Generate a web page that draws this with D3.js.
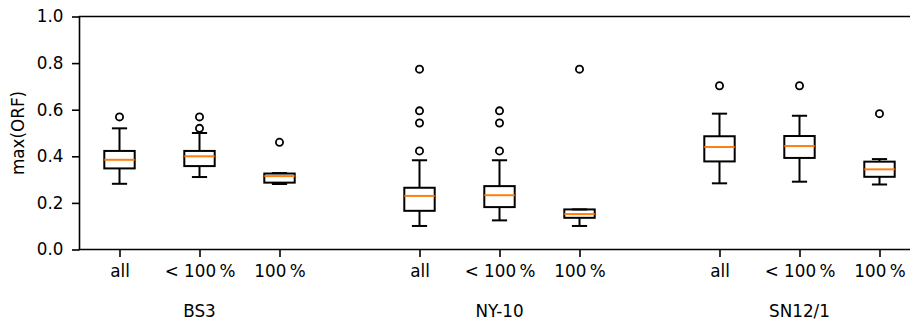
<!DOCTYPE html>
<html>
<head>
<meta charset="utf-8">
<script src="https://cdn.jsdelivr.net/npm/d3@7"></script>
<style>
  body { margin: 0; background: #fff; }
  svg { display: block; font-family: "DejaVu Sans", sans-serif; }
</style>
</head>
<body>
<div id="chart"></div>
<script>
// svg size
var svgWidth = 910;
var svgHeight = 322;
var fontSize = 16.8;

// data
var groups = ["BS3", "NY-10", "SN12/1"];
var tickLabels = ["all", "< 100\u2009%", "100\u2009%"];
var positions = [1, 2, 3, 4.75, 5.75, 6.75, 8.5, 9.5, 10.5];

var whiskerLow  = [0.282, 0.311, 0.281, 0.101, 0.125, 0.101, 0.284, 0.291, 0.279];
var q1          = [0.348, 0.358, 0.287, 0.166, 0.182, 0.136, 0.378, 0.393, 0.312];
var medians     = [0.385, 0.400, 0.315, 0.230, 0.233, 0.152, 0.440, 0.444, 0.344];
var q3          = [0.423, 0.423, 0.326, 0.265, 0.272, 0.172, 0.486, 0.487, 0.377];
var whiskerHigh = [0.520, 0.500, 0.328, 0.383, 0.383, 0.172, 0.583, 0.574, 0.388];
var outliers = [
  [0.569],
  [0.569, 0.520],
  [0.460],
  [0.774, 0.595, 0.543, 0.423],
  [0.595, 0.543, 0.423],
  [0.774],
  [0.703],
  [0.703],
  [0.583]
];
var yTicks = [0, 0.2, 0.4, 0.6, 0.8, 1.0];

var margin = {left: 79.5, top: 16.5, bottom: 72.5};
var plotBottom = svgHeight - margin.bottom;

var svg = d3.select("#chart")
  .append("svg")
  .attr("width", svgWidth)
  .attr("height", svgHeight);

var x = d3.scaleLinear()
  .domain([0.5, 11])
  .range([margin.left, margin.left + 10.5 * 80]);

var y = d3.scaleLinear()
  .domain([0, 1])
  .range([plotBottom, margin.top]);

var boxW = 0.38;
var capW = boxW / 2;

var boxes = positions.map(function(p, i) {
  return {pos: p, lo: whiskerLow[i], q1: q1[i], med: medians[i], q3: q3[i], hi: whiskerHigh[i], out: outliers[i]};
});

var g = svg.append("g");

boxes.forEach(function(d) {
  var bx = g.append("g");
  // whiskers
  bx.append("line")
    .attr("x1", x(d.pos)).attr("x2", x(d.pos))
    .attr("y1", y(d.q1)).attr("y2", y(d.lo))
    .attr("stroke", "#000").attr("stroke-width", 2);
  bx.append("line")
    .attr("x1", x(d.pos)).attr("x2", x(d.pos))
    .attr("y1", y(d.q3)).attr("y2", y(d.hi))
    .attr("stroke", "#000").attr("stroke-width", 2);
  // caps
  [d.lo, d.hi].forEach(function(v) {
    bx.append("line")
      .attr("x1", x(d.pos - capW / 2)).attr("x2", x(d.pos + capW / 2))
      .attr("y1", y(v)).attr("y2", y(v))
      .attr("stroke", "#000").attr("stroke-width", 2);
  });
  // box
  bx.append("rect")
    .attr("x", x(d.pos - boxW / 2))
    .attr("y", y(d.q3))
    .attr("width", x(d.pos + boxW / 2) - x(d.pos - boxW / 2))
    .attr("height", y(d.q1) - y(d.q3))
    .attr("fill", "none")
    .attr("stroke", "#000").attr("stroke-width", 2);
  // median
  bx.append("line")
    .attr("x1", x(d.pos - boxW / 2)).attr("x2", x(d.pos + boxW / 2))
    .attr("y1", y(d.med)).attr("y2", y(d.med))
    .attr("stroke", "#ff7f0e").attr("stroke-width", 2);
  // fliers
  bx.selectAll("circle")
    .data(d.out)
    .enter()
    .append("circle")
    .attr("cx", x(d.pos))
    .attr("cy", v => y(v))
    .attr("r", 3.6)
    .attr("fill", "none")
    .attr("stroke", "#000").attr("stroke-width", 1.8);
});

// y axis
var leftAxis = d3.axisLeft(y)
  .tickValues(yTicks)
  .tickFormat(d3.format(".1f"))
  .tickSize(7.5)
  .tickPadding(8.5);

var yAxis = svg.append("g")
  .attr("transform", `translate(${margin.left},0)`)
  .call(leftAxis);
yAxis.select(".domain").remove();
yAxis.selectAll("line").attr("stroke-width", 1.6);
yAxis.selectAll("text").attr("font-size", fontSize).attr("fill", "#000")
  .attr("font-family", "DejaVu Sans");

// x axis
var bottomAxis = d3.axisBottom(x)
  .tickValues(positions)
  .tickFormat((d, i) => tickLabels[i % 3])
  .tickSize(7.5)
  .tickPadding(8);

var xAxis = svg.append("g")
  .attr("transform", `translate(0,${plotBottom})`)
  .call(bottomAxis);
xAxis.select(".domain").remove();
xAxis.selectAll("line").attr("stroke-width", 1.6);
xAxis.selectAll("text").attr("font-size", fontSize).attr("fill", "#000")
  .attr("font-family", "DejaVu Sans");

// spines: left, top, bottom (right side runs off the picture)
svg.append("line")
  .attr("x1", margin.left).attr("x2", margin.left)
  .attr("y1", margin.top).attr("y2", plotBottom)
  .attr("stroke", "#000").attr("stroke-width", 1.6);
svg.append("line")
  .attr("x1", margin.left - 0.8).attr("x2", svgWidth)
  .attr("y1", margin.top).attr("y2", margin.top)
  .attr("stroke", "#000").attr("stroke-width", 1.6);
svg.append("line")
  .attr("x1", margin.left - 0.8).attr("x2", svgWidth)
  .attr("y1", plotBottom).attr("y2", plotBottom)
  .attr("stroke", "#000").attr("stroke-width", 1.6);

// group labels under the middle tick of each group
svg.selectAll("text.group")
  .data(groups)
  .enter()
  .append("text")
  .attr("class", "group")
  .attr("x", (d, i) => x(positions[i * 3 + 1]))
  .attr("y", 316.5)
  .attr("text-anchor", "middle")
  .attr("font-size", fontSize)
  .text(d => d);

// y label
svg.append("text")
  .attr("transform", `translate(24,${(margin.top + plotBottom) / 2}) rotate(-90)`)
  .attr("text-anchor", "middle")
  .attr("font-size", fontSize)
  .text("max(ORF)");
</script>
</body>
</html>
